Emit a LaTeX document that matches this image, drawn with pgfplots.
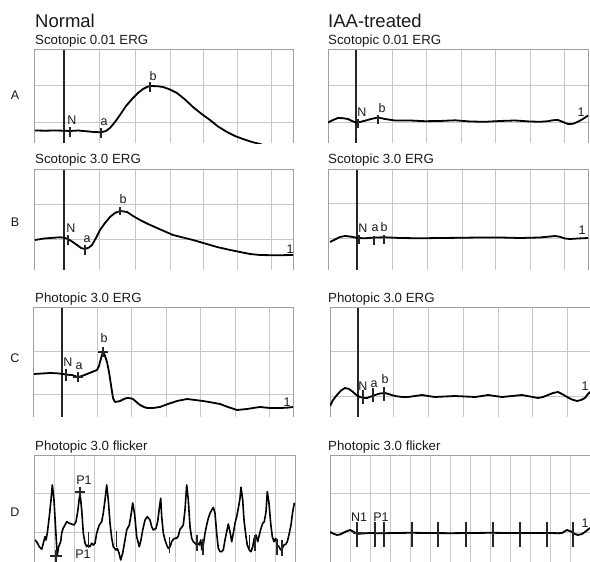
\documentclass[border=0pt]{standalone}
\usepackage{fontspec}
\setmainfont{Liberation Sans}
\usepackage{pgfplots}
\pgfplotsset{compat=1.18}
\definecolor{gridgray}{HTML}{C8C8C8}
\definecolor{framegray}{HTML}{A0A0A0}
\definecolor{txt}{HTML}{1A1A1A}
\pgfplotsset{
  erg/.style={
    scale only axis, anchor=north west, y dir=reverse,
    axis line style={draw=none},
    major tick length=0pt,
    xticklabels={}, yticklabels={},
    grid=major,
    major grid style={line width=1pt, draw=gridgray},
    clip mode=individual,
  },
  trace/.style={black, line width=1.8pt, line join=round, no marks},
  tk/.style={only marks, mark=|, mark size=#1, mark options={line width=1.2pt, draw=black!85}},
  pk/.style={only marks, mark=+, mark size=#1, mark options={line width=1.2pt, draw=black!85}},
}
\tikzset{lab/.style={font=\fontsize{12.5}{12.5}\selectfont, inner sep=0pt, text=txt}}
\newcommand{\hd}{\fontsize{18.5}{19}\selectfont}
\newcommand{\st}{\fontsize{13.3}{14}\selectfont}
\begin{document}
\begin{tikzpicture}
\useasboundingbox (0pt,0pt) rectangle (590pt,562pt);
% headers
\node[anchor=base west, inner sep=0pt, text=txt, font=\hd] at (35pt,534pt) {Normal};
\node[anchor=base west, inner sep=0pt, text=txt, font=\hd] at (328pt,534pt) {IAA-treated};
\node[anchor=base west, inner sep=0pt, text=txt, font=\st] at (35pt,517.7pt) {Scotopic 0.01 ERG};
\node[anchor=base west, inner sep=0pt, text=txt, font=\st] at (328pt,517.7pt) {Scotopic 0.01 ERG};
\node[anchor=base west, inner sep=0pt, text=txt, font=\st] at (35pt,398pt) {Scotopic 3.0 ERG};
\node[anchor=base west, inner sep=0pt, text=txt, font=\st] at (328pt,398pt) {Scotopic 3.0 ERG};
\node[anchor=base west, inner sep=0pt, text=txt, font=\st] at (35pt,259.3pt) {Photopic 3.0 ERG};
\node[anchor=base west, inner sep=0pt, text=txt, font=\st] at (328pt,259.3pt) {Photopic 3.0 ERG};
\node[anchor=base west, inner sep=0pt, text=txt, font=\st] at (35pt,111.3pt) {Photopic 3.0 flicker};
\node[anchor=base west, inner sep=0pt, text=txt, font=\st] at (328pt,111.3pt) {Photopic 3.0 flicker};
\node[lab] at (15pt,467pt) {A};
\node[lab] at (15pt,340pt) {B};
\node[lab] at (15pt,204pt) {C};
\node[lab] at (15pt,50pt) {D};

% ---------- A normal
\begin{axis}[erg, at={(35pt,512pt)}, width=258pt, height=93pt,
  xmin=35, xmax=293, ymin=50, ymax=143,
  xtick={64,100,135,170,203,237,271}, ytick={86,123}]
\draw[framegray, line width=1pt] (axis cs:35,143) -- (axis cs:35,50) -- (axis cs:293,50) -- (axis cs:293,143);
\draw[black!85, line width=1.3pt] (axis cs:64,50) -- (axis cs:64,143);
\addplot[trace] coordinates {(35,130.5) (45,130.7) (55,130.5) (64,130.7) (70,131) (78,130.5) (86,131.2) (94,132) (101,132.3) (106,131) (110,128) (115,122) (120,115) (126,106) (133,98) (138,93) (143,89) (148,86.5) (152,86) (158,86.3) (163,87) (170,89.5) (177,93) (185,99.5) (193,107) (201,113.5) (210,120) (218,126.5) (227,132) (235,136) (243,139) (252,142) (262,144.5)};
\addplot[tk=5pt] coordinates {(70,132.5) (101,133) (150,87.5)};
\node[lab] at (axis cs:72,120) {N};
\node[lab] at (axis cs:104,122) {a};
\node[lab] at (axis cs:153,76) {b};
\end{axis}

% ---------- A IAA
\begin{axis}[erg, at={(328pt,512pt)}, width=260pt, height=93pt,
  xmin=328, xmax=588, ymin=50, ymax=143,
  xtick={356,392,426,461,495,530,564}, ytick={86,123}]
\draw[framegray, line width=1pt] (axis cs:328,143) -- (axis cs:328,50) -- (axis cs:588,50) -- (axis cs:588,143);
\draw[black!85, line width=1.3pt] (axis cs:356,50) -- (axis cs:356,143);
\addplot[trace] coordinates {(328,122.5) (333,120) (338,118) (343,118.2) (348,119) (352,121) (356,122.5) (360,122) (365,120.7) (371,119) (378,117.5) (385,119) (395,120.5) (410,120.5) (425,121.2) (440,121) (455,120.3) (470,121.5) (485,121.8) (500,121) (515,120.5) (530,121.5) (540,121.8) (548,121.2) (553,120.2) (558,120) (563,122) (568,124) (573,123.8) (578,121.7) (583,119) (588,115.5)};
\addplot[tk=4.5pt] coordinates {(358,124) (378,120)};
\node[lab] at (axis cs:362,112) {N};
\node[lab] at (axis cs:382,108) {b};
\node[lab] at (axis cs:581,112) {1};
\end{axis}

% ---------- B normal
\begin{axis}[erg, at={(35pt,392pt)}, width=258pt, height=100pt,
  xmin=35, xmax=293, ymin=170, ymax=270,
  xtick={64,100,135,170,203,237,271}, ytick={205,240}]
\draw[framegray, line width=1pt] (axis cs:35,270) -- (axis cs:35,170) -- (axis cs:293,170) -- (axis cs:293,270);
\draw[black!85, line width=1.3pt] (axis cs:64,170) -- (axis cs:64,270);
\addplot[trace] coordinates {(35,240) (44,238.5) (53,237.8) (60,237.3) (64,237.7) (68,239) (72,241.5) (77,245) (81,248) (85,249) (89,247.5) (92,245) (96,238) (100,230) (105,223) (110,217) (115,213) (120,211) (124,211.5) (127,212) (133,216) (140,220) (148,224) (157,228) (165,231.5) (173,235) (183,237.5) (193,240) (205,243.5) (217,247) (228,249.5) (240,252) (250,254) (260,255) (275,255.3) (293,255)};
\addplot[tk=5pt] coordinates {(68,240) (85,250)};
\addplot[pk=4pt] coordinates {(120,211.5)};
\node[lab] at (axis cs:71,228) {N};
\node[lab] at (axis cs:87,239) {a};
\node[lab] at (axis cs:123,199) {b};
\node[lab] at (axis cs:290,249) {1};
\end{axis}

% ---------- B IAA
\begin{axis}[erg, at={(328pt,392pt)}, width=260pt, height=100pt,
  xmin=328, xmax=588, ymin=170, ymax=270,
  xtick={357,392,427,462,495,530,564}, ytick={204,239}]
\draw[framegray, line width=1pt] (axis cs:328,270) -- (axis cs:328,170) -- (axis cs:588,170) -- (axis cs:588,270);
\draw[black!85, line width=1.3pt] (axis cs:357,170) -- (axis cs:357,270);
\addplot[trace] coordinates {(330,242) (335,239.5) (340,237) (345,236) (350,236.5) (355,237.5) (358,238) (365,238.3) (375,237.5) (385,237.3) (400,238) (420,238.3) (440,238) (460,237.8) (480,237.5) (500,237.5) (520,238) (540,237.5) (550,236.5) (555,236) (560,236.8) (565,238.5) (570,239) (578,238.5) (588,238)};
\addplot[tk=4.5pt] coordinates {(359,240) (374,240.5) (384,239.5)};
\node[lab] at (axis cs:363,228) {N};
\node[lab] at (axis cs:375,228) {a};
\node[lab] at (axis cs:384,227) {b};
\node[lab] at (axis cs:582,230) {1};
\end{axis}

% ---------- C normal
\begin{axis}[erg, at={(34pt,254pt)}, width=259pt, height=109pt,
  xmin=34, xmax=293, ymin=308, ymax=417,
  xtick={62,97,131,166,200,235,269}, ytick={352,395}]
\draw[framegray, line width=1pt] (axis cs:34,417) -- (axis cs:34,308) -- (axis cs:293,308) -- (axis cs:293,417);
\draw[black!85, line width=1.3pt] (axis cs:62,308) -- (axis cs:62,417);
\addplot[trace] coordinates {(34,374) (42,373.5) (50,373) (57,373.3) (63,374) (68,374.8) (72,375) (75,376) (78,377) (82,376) (87,374) (92,372) (97,370) (99,366) (100,362) (102,355) (103,352) (105,356) (107,362) (109,372) (111,385) (113,398) (115,402) (118,401.5) (120,401) (124,399) (127,398) (130,398.2) (133,399) (137,402.5) (140,405) (144,407) (147,408) (153,408) (160,407) (168,404) (177,401) (187,399) (195,400) (203,401) (212,402.5) (220,404) (228,407) (237,410) (242,409.5) (247,409) (253,408) (260,407) (265,407.5) (270,408) (280,408) (287,407.7) (293,407)};
\addplot[tk=6pt] coordinates {(66,375)};
\addplot[pk=5pt] coordinates {(78,377) (103,352)};
\node[lab] at (axis cs:68,362) {N};
\node[lab] at (axis cs:79,366) {a};
\node[lab] at (axis cs:104,338) {b};
\node[lab] at (axis cs:287,402) {1};
\end{axis}

% ---------- C IAA
\begin{axis}[erg, at={(330pt,254pt)}, width=260pt, height=109pt,
  xmin=330, xmax=590, ymin=308, ymax=417,
  xtick={358,393,428,463,498,532,567}, ytick={352,397}]
\draw[framegray, line width=1pt] (axis cs:330,417) -- (axis cs:330,308) -- (axis cs:590,308) -- (axis cs:590,417);
\draw[black!85, line width=1.3pt] (axis cs:358,308) -- (axis cs:358,417);
\addplot[trace] coordinates {(330,406) (333,400) (337,395) (341,390.5) (345,388) (349,389) (353,392) (357,395.5) (360,397) (364,398) (367,398) (371,396.5) (375,395) (380,393.5) (385,393) (390,394.5) (395,396) (402,397) (408,397) (415,396) (422,395) (428,396) (435,397) (445,396.5) (455,396) (465,396.5) (475,397) (482,396) (488,395) (495,396) (502,397) (512,396) (522,395) (530,396.5) (538,398) (543,397) (548,395) (553,393) (558,392) (562,394) (567,397) (572,399.5) (577,401) (581,400) (585,398) (588,394) (590,392)};
\addplot[tk=7pt] coordinates {(363,397.5) (373,395.5) (384,394)};
\node[lab] at (axis cs:363,386) {N};
\node[lab] at (axis cs:374,384) {a};
\node[lab] at (axis cs:385,379) {b};
\node[lab] at (axis cs:585,386) {1};
\end{axis}

% ---------- D normal
\begin{axis}[erg, at={(35pt,106pt)}, width=260pt, height=106pt,
  xmin=35, xmax=295, ymin=456, ymax=562,
  xtick={55,75,...,275}, ytick={494,533}]
\draw[framegray, line width=1pt] (axis cs:35,562) -- (axis cs:35,456) -- (axis cs:295,456) -- (axis cs:295,562);
\addplot[trace, line width=1.6pt] coordinates {(35,540) (36.7,541.7) (39.3,546.7) (41.7,549.3) (43.3,543.3) (45,536.7) (46,540) (47.3,533) (49.3,516.7) (51,500) (52.3,485) (54,500) (55.3,523) (56.7,546.7) (57.3,555) (58.7,546.7) (60.7,541.7) (61.7,533) (63.3,528) (65,525) (66.7,521.7) (69.3,523.3) (71.7,524) (74,525) (76,521.7) (77.7,511.7) (79.3,498.3) (80,493) (81.7,510) (83.3,533) (85,543) (86.7,546.7) (88.3,545) (90,546.7) (91.7,543.3) (93.3,545) (95,543.3) (96.7,533) (99.3,525) (101.7,521.7) (103.3,513) (105,500) (106.7,485) (108.3,500) (110,523) (111.7,538) (113.3,546.7) (116,550) (117.3,548.3) (119,553) (120.7,560) (122.7,553) (125,540) (126.7,530) (129.3,525) (131,515) (132.7,503) (134.7,515) (136.7,536.7) (139.3,546.7) (141,540) (142.7,530) (145,520) (147.3,516.7) (150,520) (151.7,526.7) (153.3,530) (156,528.3) (157.7,521.7) (159.3,508.3) (160.7,498.3) (161.7,516.7) (163.3,533) (165,540) (166.7,545) (168.3,548.3) (170,546.7) (171.7,541.7) (173.3,539.3) (175,538.3) (176.7,538.3) (178.3,536) (180,529.3) (181.7,527.3) (183.3,525) (185,510) (186.7,485) (188.3,500) (190,526.7) (191.7,538.3) (193.3,541.7) (195,543.3) (196.7,545) (198.3,543.3) (199.3,545) (200.7,540) (202,550) (203.3,545) (205,533.3) (206.7,525) (208.3,518.3) (210,513.3) (211.7,510) (213.3,507.3) (215,513.3) (216.7,533.3) (218.3,548.3) (220,551.7) (221.7,551.7) (223.3,550) (225,540) (226.7,531.7) (228.3,524) (230,531.7) (231.7,541.7) (233.3,533.3) (235,523.3) (236.7,516.7) (238.3,508.3) (240,498.3) (241,487.3) (242.7,500) (244,520) (246,536.7) (247.3,545) (249.3,550) (251,551.7) (252.7,546.7) (254.3,538.3) (256,535) (257.7,541.7) (259.3,535) (261,528.3) (262.7,523.3) (264.3,521.7) (266,511.7) (267.3,491.7) (269,503.3) (270.7,523.3) (272.3,536.7) (274,541.7) (275.7,538.3) (277.3,545) (279,546.7) (280.7,550) (282.3,548.3) (284,545) (285.7,544.3) (287.3,541.7) (289.3,533.3) (291,525) (292.7,511.7) (294.3,503.3) (295,505)};
\addplot[tk=8pt] coordinates {(88.3,540) (116.5,539) (169.5,545) (197,543) (203,547) (249.5,543) (255,543) (277,547) (282,548)};
\addplot[pk=5pt] coordinates {(80,492)};
\addplot[pk=6pt] coordinates {(56,556)};
\node[lab] at (axis cs:84,480) {P1};
\node[lab, anchor=north] at (axis cs:83,550) {P1};
\end{axis}

% ---------- D IAA
\begin{axis}[erg, at={(330pt,106pt)}, width=260pt, height=106pt,
  xmin=330, xmax=590, ymin=456, ymax=562,
  xtick={350,370,...,570}, ytick={494,533}]
\draw[framegray, line width=1pt] (axis cs:330,562) -- (axis cs:330,456) -- (axis cs:590,456) -- (axis cs:590,562);
\addplot[trace] coordinates {(330,532) (333,533.5) (337,535) (340,534.5) (343,533) (346,531.5) (350,530) (354,532) (357,534) (362,533.5) (370,533) (380,533.3) (395,533) (410,532.8) (430,533) (450,533.2) (470,533) (490,532.8) (510,533) (530,533) (550,533) (558,533.2) (562,533) (567,530) (571,531.5) (575,534) (578,535) (582,534) (585,532) (588,529.5) (590,528)};
\addplot[tk=12.5pt] coordinates {(357,534.5) (375,534.5) (384,534.5) (412,534.5) (438,534.5) (466,534.5) (493,534.5) (520,534.5) (547,534.5) (573,534.5)};
\addplot[only marks, mark=-, mark size=5pt, mark options={line width=1.2pt, draw=black!85}] coordinates {(358,533)};
\node[lab] at (axis cs:359,517) {N1};
\node[lab] at (axis cs:381,517) {P1};
\node[lab] at (axis cs:585,523) {1};
\end{axis}
\end{tikzpicture}
\end{document}
